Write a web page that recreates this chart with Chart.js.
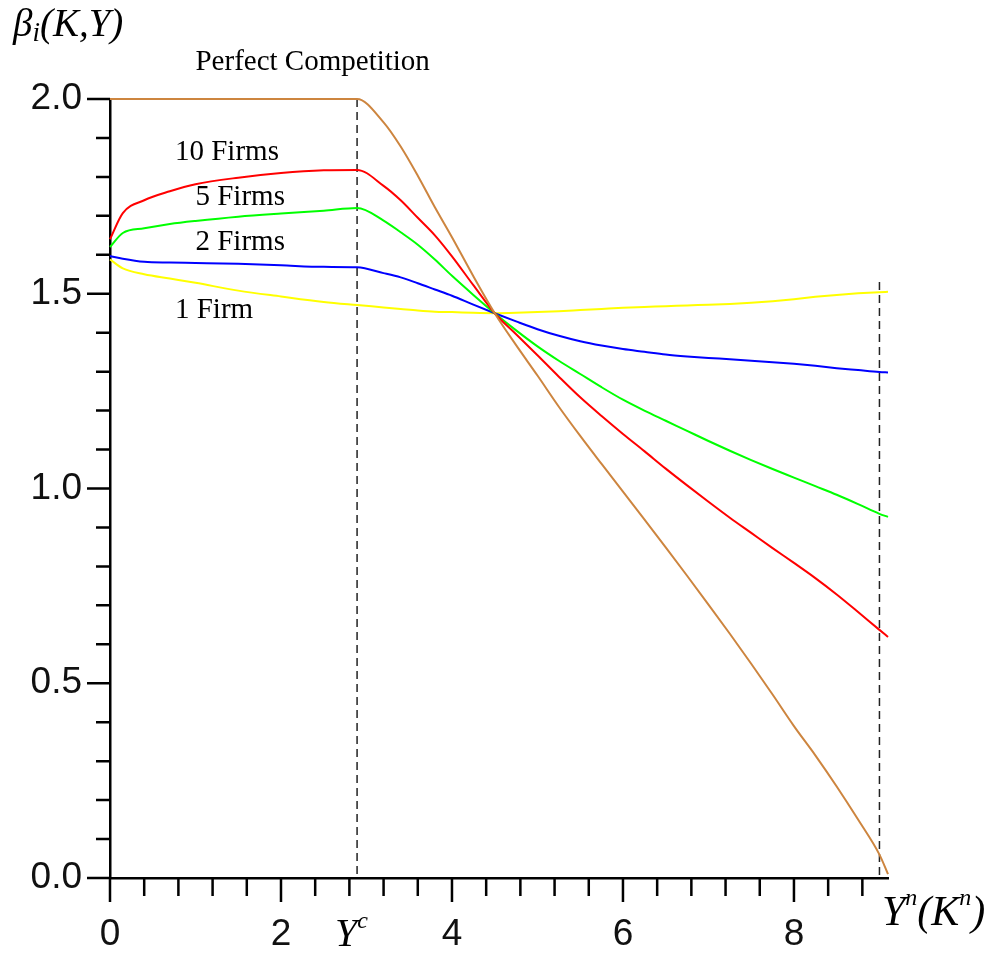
<!DOCTYPE html>
<html>
<head>
<meta charset="utf-8">
<script src="https://cdn.jsdelivr.net/npm/chart.js@4.4.1/dist/chart.umd.min.js"></script>
<style>
  html, body { margin: 0; padding: 0; background: #fff; }
  #grafico { display: block; }
</style>
</head>
<body>
<canvas id="grafico" width="997" height="953"></canvas>
<script>
// valores (beta_i(K,Y) em função de Y)
const xs = [0, 0.15, 0.4, 0.7, 1.0, 1.5, 2.0, 2.5, 2.89, 3.2, 3.4, 3.6, 3.8, 4.0, 4.25, 4.5, 4.75, 5.0, 5.25, 5.5,
  5.75, 6.0, 6.25, 6.5, 6.75, 7.0, 7.25, 7.5, 7.75, 8.0, 8.25, 8.5, 8.75, 9.0, 9.1];

const perfeita = [2.0, 2.0, 2.0, 2.0, 2.0, 2.0, 2.0, 2.0, 2.0, 1.94, 1.878, 1.803, 1.722, 1.645, 1.545, 1.45, 1.368, 1.29, 1.21, 1.135,
  1.063, 0.992, 0.921, 0.849, 0.776, 0.702, 0.627, 0.55, 0.471, 0.39, 0.315, 0.235, 0.15, 0.06, 0.01];
const firmas10 = [1.64, 1.707, 1.74, 1.763, 1.781, 1.798, 1.81, 1.817, 1.818, 1.777, 1.74, 1.695, 1.65, 1.596, 1.522, 1.45, 1.396, 1.342, 1.287, 1.234,
  1.186, 1.14, 1.096, 1.051, 1.008, 0.966, 0.925, 0.886, 0.847, 0.809, 0.77, 0.728, 0.683, 0.637, 0.619];
const firmas5 = [1.62, 1.656, 1.668, 1.679, 1.687, 1.698, 1.706, 1.713, 1.72, 1.688, 1.658, 1.626, 1.588, 1.546, 1.497, 1.45, 1.406, 1.365, 1.328, 1.294,
  1.26, 1.228, 1.2, 1.174, 1.148, 1.122, 1.097, 1.073, 1.05, 1.028, 1.006, 0.984, 0.96, 0.935, 0.927];
const firmas2 = [1.597, 1.59, 1.582, 1.58, 1.579, 1.577, 1.573, 1.569, 1.568, 1.553, 1.542, 1.527, 1.511, 1.495, 1.472, 1.45, 1.429, 1.409, 1.392, 1.378,
  1.367, 1.358, 1.351, 1.344, 1.339, 1.335, 1.332, 1.328, 1.324, 1.32, 1.315, 1.309, 1.304, 1.299, 1.298];
const firma1 = [1.588, 1.565, 1.55, 1.539, 1.528, 1.508, 1.493, 1.479, 1.471, 1.465, 1.461, 1.457, 1.454, 1.453, 1.451, 1.45, 1.451, 1.453, 1.455, 1.458,
  1.461, 1.464, 1.466, 1.468, 1.47, 1.472, 1.474, 1.477, 1.481, 1.486, 1.492, 1.497, 1.501, 1.504, 1.505];

// linhas tracejadas verticais (Y^c e Y^n)
const yc = 2.89;
const ycLinha = [2.0, 0];
const yn = 9.0;
const ynLinha = [1.53, 0];

// marcas dos eixos
const xTicks = [0, 0.4, 0.8, 1.2, 1.6, 2, 2.4, 2.8, 3.2, 3.6, 4, 4.4, 4.8, 5.2, 5.6, 6, 6.4, 6.8, 7.2, 7.6, 8, 8.4, 8.8];
const xRotulos = [0, 2, 4, 6, 8];
const yTicks = [0, 0.1, 0.2, 0.3, 0.4, 0.5, 0.6, 0.7, 0.8, 0.9, 1.0, 1.1, 1.2, 1.3, 1.4, 1.5, 1.6, 1.7, 1.8, 1.9, 2.0];
const yRotulos = [0, 0.5, 1.0, 1.5, 2.0];

// textos sobre o gráfico, ancorados em coordenadas de dados
const anotacoes = [
  { texto: "Perfect Competition", x: 1.0, y: 2.074 },
  { texto: "10 Firms", x: 0.76, y: 1.843 },
  { texto: "5 Firms", x: 1.0, y: 1.728 },
  { texto: "2 Firms", x: 1.0, y: 1.612 },
  { texto: "1 Firm", x: 0.76, y: 1.438 }
];

const ehRotulo = (lista, v) => lista.some((r) => Math.abs(r - v) < 1e-6);
const pontos = (ys) => ys.map((y, i) => ({ x: xs[i], y }));
const serie = (dados, cor) => ({
  data: pontos(dados), borderColor: cor, borderWidth: 2, pointRadius: 0,
  cubicInterpolationMode: "monotone", fill: false, clip: false
});
const tracejada = (x, ys) => ({
  data: ys.map((y) => ({ x, y })), borderColor: "#222", borderWidth: 1.5,
  borderDash: [8, 5], pointRadius: 0, order: 5, clip: false
});

// desenha texto com partes sobrescritas/subscritas
function textoRico(ctx, partes, x, y) {
  let cx = x;
  partes.forEach((p) => {
    ctx.font = `italic ${p.tam}px "Liberation Serif", serif`;
    ctx.fillText(p.t, cx, y + (p.dy || 0));
    cx += ctx.measureText(p.t).width + (p.esp || 0);
  });
}

const marcasETextos = {
  id: "marcasETextos",
  afterDraw(chart) {
    const { ctx, chartArea, scales } = chart;
    const sx = scales.x, sy = scales.y;
    ctx.save();
    ctx.strokeStyle = "#000";
    ctx.lineWidth = 2.5;
    ctx.beginPath();
    xTicks.forEach((v) => {
      const px = sx.getPixelForValue(v);
      const len = ehRotulo(xRotulos, v) ? 24 : 18;
      ctx.moveTo(px, chartArea.bottom);
      ctx.lineTo(px, chartArea.bottom + len);
    });
    yTicks.forEach((v) => {
      const py = sy.getPixelForValue(v);
      const len = ehRotulo(yRotulos, v) ? 23 : 14;
      ctx.moveTo(chartArea.left, py);
      ctx.lineTo(chartArea.left - len, py);
    });
    ctx.stroke();

    ctx.fillStyle = "#000";
    ctx.textBaseline = "alphabetic";
    ctx.textAlign = "left";
    ctx.font = '29px "Liberation Serif", serif';
    anotacoes.forEach((a) => {
      ctx.fillText(a.texto, sx.getPixelForValue(a.x), sy.getPixelForValue(a.y));
    });

    // titulo do eixo y: beta_i(K,Y)
    textoRico(ctx, [
      { t: "β", tam: 39 }, { t: "i", tam: 27, dy: 5 }, { t: "(K,Y)", tam: 39, esp: 0 }
    ], chartArea.left - 97, chartArea.top - 63);

    // Y^c sob a linha tracejada
    textoRico(ctx, [
      { t: "Y", tam: 40 }, { t: "c", tam: 24, dy: -18 }
    ], sx.getPixelForValue(yc) - 22, chartArea.bottom + 68);

    // Y^n(K^n) no fim do eixo x
    textoRico(ctx, [
      { t: "Y", tam: 42 }, { t: "n", tam: 24, dy: -20 }, { t: "(K", tam: 42 },
      { t: "n", tam: 24, dy: -20 }, { t: ")", tam: 42 }
    ], chartArea.right - 6, chartArea.bottom + 47);
    ctx.restore();
  }
};

const fonteEixo = { family: '"Liberation Sans", Arial, sans-serif', size: 37 };

new Chart(document.getElementById("grafico"), {
  type: "line",
  data: {
    datasets: [
      serie(perfeita, "#CD853F"),
      serie(firmas10, "#FF0000"),
      serie(firmas5, "#00FF00"),
      serie(firmas2, "#0000FF"),
      serie(firma1, "#FFFF00"),
      tracejada(yc, ycLinha),
      tracejada(yn, ynLinha)
    ]
  },
  options: {
    responsive: false,
    animation: false,
    layout: { padding: { top: 99, right: 109, left: 0, bottom: 0 } },
    plugins: { legend: { display: false }, tooltip: { enabled: false } },
    scales: {
      x: {
        type: "linear", min: 0, max: 9.1,
        afterBuildTicks: (s) => { s.ticks = xTicks.map((v) => ({ value: v })); },
        afterFit: (s) => { s.height = 75; },
        grid: { display: false, drawTicks: true, tickLength: 28 },
        border: { display: true, color: "#000", width: 2.5 },
        ticks: {
          autoSkip: false, maxRotation: 0, padding: 7, color: "#111", font: fonteEixo,
          callback: (v) => (ehRotulo(xRotulos, v) ? String(Math.round(v)) : "")
        }
      },
      y: {
        min: 0, max: 2,
        afterBuildTicks: (s) => { s.ticks = yTicks.map((v) => ({ value: v })); },
        afterFit: (s) => { s.width = 110; },
        grid: { display: false, drawTicks: true, tickLength: 24 },
        border: { display: true, color: "#000", width: 2.5 },
        ticks: {
          autoSkip: false, padding: 4, color: "#111", font: fonteEixo,
          callback: (v) => (ehRotulo(yRotulos, v) ? v.toFixed(1) : "")
        }
      }
    }
  },
  plugins: [marcasETextos]
});
</script>
</body>
</html>
